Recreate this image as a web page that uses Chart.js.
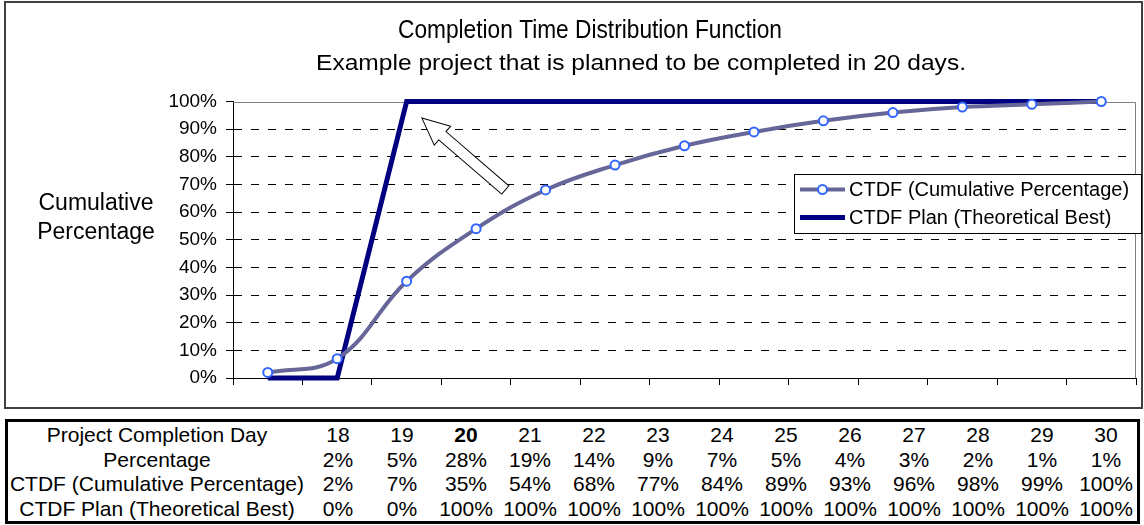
<!DOCTYPE html>
<html>
<head>
<meta charset="utf-8">
<script src="https://cdn.jsdelivr.net/npm/chart.js@4.4.1/dist/chart.umd.min.js"></script>
<style>
body { margin: 0; background: #fff; font-family: 'Liberation Sans', Arial, sans-serif; }
#frame { position: absolute; left: 4px; top: 1px; width: 1139px; height: 408px; border: 2px solid #404040; box-sizing: border-box; }
#wrap { position: absolute; left: 0; top: 0; width: 1144px; height: 412px; }
#tblBox { position: absolute; left: 5px; top: 419px; width: 1135px; height: 105px; border: 3px solid #000; box-sizing: border-box; padding-top: 1px; }
#tbl { border-collapse: collapse; table-layout: fixed; width: 1130px; font-size: 21px; color: #000; }
#tbl td { height: 24.6px; padding: 0; text-align: center; vertical-align: middle; white-space: nowrap; line-height: 24px; }
</style>
</head>
<body>
<div id="frame"></div>
<div id="wrap"><canvas id="chart" width="1144" height="412"></canvas></div>
<div id="tblBox"><table id="tbl"></table></div>
<script>
// data
var days = ['18', '19', '20', '21', '22', '23', '24', '25', '26', '27', '28', '29', '30'];
var pctValues = [2, 5, 28, 19, 14, 9, 7, 5, 4, 3, 2, 1, 1];
var ctdfValues = [2, 7, 35, 54, 68, 77, 84, 89, 93, 96, 98, 99, 100];
var planValues = [0, 0, 100, 100, 100, 100, 100, 100, 100, 100, 100, 100, 100];
var rowLabels = ['Project Completion Day', 'Percentage', 'CTDF (Cumulative Percentage)', 'CTDF Plan (Theoretical Best)'];
var boldDay = '20';
var titleText = 'Completion Time Distribution Function';
var subtitleText = 'Example project that is planned to be completed in 20 days.';
var yTitleLines = ['Cumulative', 'Percentage'];
// arrow note: [category index, percent]
var arrowTip = [2.22, 94];
var arrowTail = [3.42, 68];

var FONT = "'Liberation Sans', Arial, sans-serif";

// data table under the chart
var tbl = document.getElementById('tbl');
var colgroup = '<colgroup><col style="width:298px">';
for (var c = 0; c < days.length; c++) colgroup += '<col style="width:64px">';
tbl.innerHTML = colgroup + '</colgroup>';
var tableRows = [
    days,
    pctValues.map(function(v){ return v + '%'; }),
    ctdfValues.map(function(v){ return v + '%'; }),
    planValues.map(function(v){ return v + '%'; })
];
for (var r = 0; r < tableRows.length; r++) {
    var tr = document.createElement('tr');
    var html = '<td>' + rowLabels[r] + '</td>';
    tableRows[r].forEach(function(v){
        var b = (r === 0 && v === boldDay);
        html += '<td' + (b ? ' style="font-weight:bold"' : '') + '>' + v + '</td>';
    });
    tr.innerHTML = html;
    tbl.appendChild(tr);
}

// text squeezed/stretched to a given width (the titles in the picture are not plain Arial widths)
function fitText(ctx, text, cx, cy, size, width) {
    ctx.save();
    ctx.font = size + 'px ' + FONT;
    ctx.fillStyle = '#000';
    ctx.textAlign = 'center';
    ctx.textBaseline = 'middle';
    var w = ctx.measureText(text).width;
    ctx.translate(cx, cy);
    ctx.scale(width / w, 1);
    ctx.fillText(text, 0, 0);
    ctx.restore();
}

var titles = {
    id: 'titles',
    afterDraw: function(chart) {
        fitText(chart.ctx, titleText, 590, 31, 25, 384);
        fitText(chart.ctx, subtitleText, 641, 64, 22, 650);
    }
};

// grey top/right border of the plot area
var plotFrame = {
    id: 'plotFrame',
    beforeDatasetsDraw: function(chart) {
        var ctx = chart.ctx, a = chart.chartArea;
        var t = Math.round(a.top) + 0.5, r = Math.round(a.right) - 0.5;
        ctx.save();
        ctx.strokeStyle = '#808080';
        ctx.lineWidth = 1;
        ctx.beginPath();
        ctx.moveTo(Math.round(a.left), t);
        ctx.lineTo(r, t);
        ctx.lineTo(r, Math.round(a.bottom));
        ctx.stroke();
        ctx.restore();
    }
};

// horizontal two line y title
var yTitle = {
    id: 'yTitle',
    afterDraw: function(chart) {
        var ctx = chart.ctx;
        ctx.save();
        ctx.font = '23px ' + FONT;
        ctx.fillStyle = '#000';
        ctx.textAlign = 'center';
        ctx.textBaseline = 'middle';
        yTitleLines.forEach(function(t, i){ ctx.fillText(t, 96, 204 + i * 29); });
        ctx.restore();
    }
};

// hollow block arrow
var arrowNote = {
    id: 'arrowNote',
    afterDatasetsDraw: function(chart) {
        var xs = chart.scales.x, ys = chart.scales.y, ctx = chart.ctx;
        var tx = xs.getPixelForValue(arrowTip[0]), ty = ys.getPixelForValue(arrowTip[1]);
        var bx = xs.getPixelForValue(arrowTail[0]), by = ys.getPixelForValue(arrowTail[1]);
        var ang = Math.atan2(by - ty, bx - tx);
        var len = Math.hypot(bx - tx, by - ty);
        var hl = 27, hw = 12.5, sw = 5.5;
        ctx.save();
        ctx.translate(tx, ty);
        ctx.rotate(ang);
        ctx.beginPath();
        ctx.moveTo(0, 0);
        ctx.lineTo(hl, -hw);
        ctx.lineTo(hl, -sw);
        ctx.lineTo(len, -sw);
        ctx.lineTo(len, sw);
        ctx.lineTo(hl, sw);
        ctx.lineTo(hl, hw);
        ctx.closePath();
        ctx.fillStyle = '#fff';
        ctx.fill();
        ctx.strokeStyle = '#000';
        ctx.lineWidth = 1;
        ctx.stroke();
        ctx.restore();
    }
};

// boxed legend inside the plot
var boxLegend = {
    id: 'boxLegend',
    afterDraw: function(chart) {
        var ctx = chart.ctx;
        var L = 794.5, T = 174.5, W = 347, H = 59;
        ctx.save();
        ctx.fillStyle = '#fff';
        ctx.fillRect(L, T, W, H);
        ctx.strokeStyle = '#000';
        ctx.lineWidth = 1;
        ctx.strokeRect(L, T, W, H);
        ctx.font = '20px ' + FONT;
        ctx.textBaseline = 'middle';
        ctx.textAlign = 'left';
        chart.data.datasets.forEach(function(ds, i){
            var y = 189.5 + i * 28;
            ctx.strokeStyle = ds.borderColor;
            ctx.lineWidth = ds.borderWidth;
            ctx.beginPath();
            ctx.moveTo(800, y);
            ctx.lineTo(845, y);
            ctx.stroke();
            if (ds.pointRadius > 0) {
                ctx.beginPath();
                ctx.arc(822.5, y, ds.pointRadius, 0, Math.PI * 2);
                ctx.fillStyle = ds.pointBackgroundColor;
                ctx.fill();
                ctx.strokeStyle = ds.pointBorderColor;
                ctx.lineWidth = ds.pointBorderWidth;
                ctx.stroke();
            }
            ctx.fillStyle = '#000';
            ctx.fillText(ds.label, 849, y + 1);
        });
        ctx.restore();
    }
};

var ctx = document.getElementById('chart').getContext('2d');
var myChart = new Chart(ctx, {
    type: 'line',
    data: {
        labels: days,
        datasets: [{
            label: rowLabels[2],
            data: ctdfValues,
            borderColor: '#666699',
            borderWidth: 4,
            tension: 0.4,
            pointRadius: 4.5,
            pointBackgroundColor: '#fff',
            pointBorderColor: '#3366ff',
            pointBorderWidth: 2,
            clip: false,
            order: 0
        }, {
            label: rowLabels[3],
            data: planValues,
            borderColor: '#000080',
            borderWidth: 5,
            tension: 0,
            pointRadius: 0,
            clip: false,
            order: 1
        }]
    },
    options: {
        responsive: false,
        maintainAspectRatio: false,
        animation: false,
        devicePixelRatio: 1,
        layout: { padding: { left: 0, right: 8, top: 101.5, bottom: 14 } },
        plugins: {
            legend: { display: false },
            tooltip: { enabled: false },
            title: { display: false }
        },
        scales: {
            x: {
                type: 'category',
                offset: true,
                afterFit: function(scale){ scale.height = 20; },
                ticks: { display: false },
                grid: { offset: true, drawOnChartArea: false, drawTicks: true, tickLength: 7, tickColor: '#000' },
                border: { color: '#000', width: 1 }
            },
            y: {
                min: 0,
                max: 100,
                afterFit: function(scale){ scale.width = 233; },
                ticks: {
                    stepSize: 10,
                    padding: 9,
                    color: '#000',
                    font: { family: FONT, size: 19 },
                    callback: function(v){ return v + '%'; }
                },
                grid: {
                    color: function(c){ return (c.tick && (c.tick.value === 0 || c.tick.value === 100)) ? 'rgba(0,0,0,0)' : '#000'; },
                    tickColor: '#000',
                    tickLength: 7
                },
                border: { color: '#000', width: 1, dash: [8, 9] }
            }
        }
    },
    plugins: [plotFrame, arrowNote, yTitle, boxLegend, titles]
});
</script>
</body>
</html>
